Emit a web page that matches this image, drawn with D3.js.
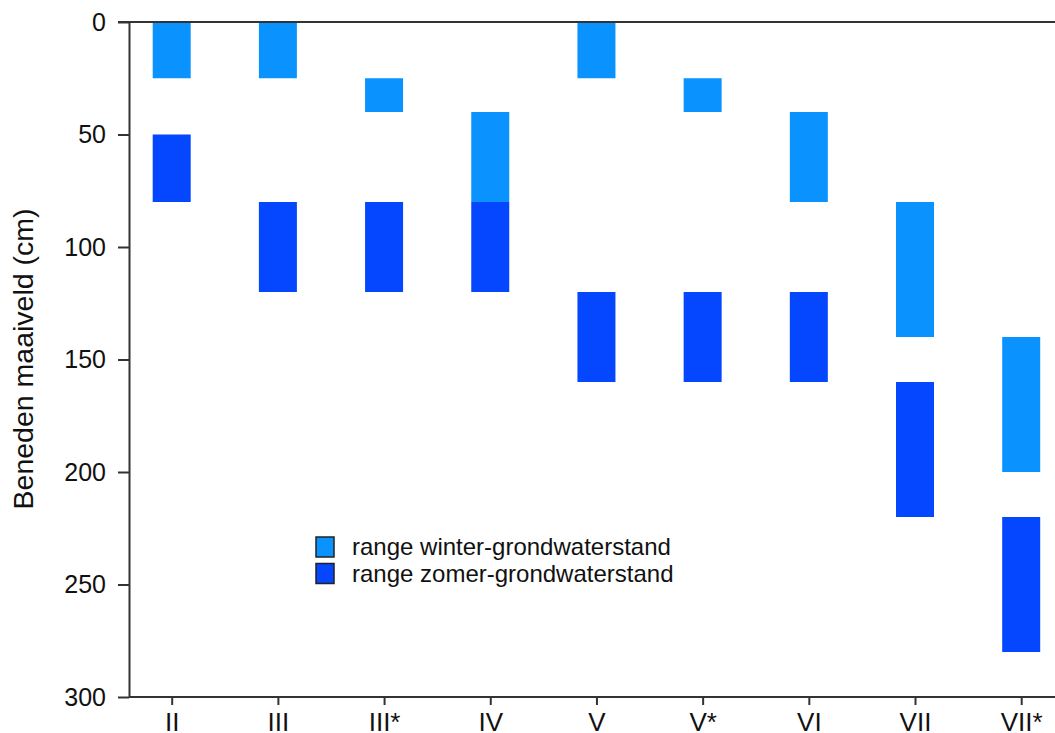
<!DOCTYPE html>
<html>
<head>
<meta charset="utf-8">
<script src="https://cdn.jsdelivr.net/npm/d3@7"></script>
<style>
  html, body { margin: 0; padding: 0; background: #fff; }
  svg { display: block; font-family: "Liberation Sans", Arial, sans-serif; }
</style>
</head>
<body>
<svg id="chart" width="1055" height="733"></svg>
<script>
const categories = ["II", "III", "III*", "IV", "V", "V*", "VI", "VII", "VII*"];
const winterTop    = [0, 0, 25, 40, 0, 25, 40, 80, 140];
const winterBottom = [25, 25, 40, 80, 25, 40, 80, 140, 200];
const summerTop    = [50, 80, 80, 80, 120, 120, 120, 160, 220];
const summerBottom = [80, 120, 120, 120, 160, 160, 160, 220, 280];
const yTicks = [0, 50, 100, 150, 200, 250, 300];
const seriesNames = ["range winter-grondwaterstand", "range zomer-grondwaterstand"];
const seriesColors = ["#0a93ff", "#0546ff"];

const W = 1055, H = 733;
const axisX = 129, yTop = 22, yBottom = 697;
const svg = d3.select("#chart");

const x = d3.scalePoint().domain(categories).range([171.7, 1021.2]);
const y = d3.scaleLinear().domain([0, 300]).range([yTop, yBottom]);
const barW = 38;

// bars
const rows = categories.map((c, i) => ({
  c,
  series: [
    { top: winterTop[i], bottom: winterBottom[i], k: 0 },
    { top: summerTop[i], bottom: summerBottom[i], k: 1 }
  ]
}));

const g = svg.append("g");
rows.forEach(r => {
  r.series.forEach(s => {
    g.append("rect")
      .attr("x", x(r.c) - barW / 2)
      .attr("width", barW)
      .attr("y", y(s.top))
      .attr("height", y(s.bottom) - y(s.top))
      .attr("fill", seriesColors[s.k]);
  });
});

// top frame line
svg.append("line")
  .attr("x1", axisX - 11).attr("x2", W)
  .attr("y1", y(0)).attr("y2", y(0))
  .attr("stroke", "#333").attr("stroke-width", 2);

// y axis
const yAxis = d3.axisLeft(y).tickValues(yTicks).tickSize(11).tickPadding(12).tickSizeOuter(0);
const yg = svg.append("g").attr("transform", `translate(${axisX},0)`).call(yAxis);
yg.select(".domain").attr("stroke", "#333").attr("stroke-width", 2);
yg.selectAll(".tick line").attr("stroke", "#333").attr("stroke-width", 2);
yg.selectAll(".tick text").attr("font-size", 25).attr("fill", "#111")
  .attr("font-family", "Liberation Sans, Arial, sans-serif");

// x axis
const xAxis = d3.axisBottom(x).tickSize(8).tickPadding(8).tickSizeOuter(0);
const xg = svg.append("g").attr("transform", `translate(0,${yBottom})`).call(xAxis);
xg.select(".domain").remove();
xg.append("line").attr("x1", axisX).attr("x2", W).attr("y1", 0).attr("y2", 0)
  .attr("stroke", "#333").attr("stroke-width", 2);
xg.selectAll(".tick line").attr("stroke", "#333").attr("stroke-width", 2);
xg.selectAll(".tick text").attr("font-size", 26).attr("fill", "#111")
  .attr("font-family", "Liberation Sans, Arial, sans-serif");

// y axis title
svg.append("text")
  .attr("transform", `translate(33,359) rotate(-90)`)
  .attr("text-anchor", "middle")
  .attr("font-size", 28.5)
  .attr("fill", "#111")
  .text("Beneden maaiveld (cm)");

// legend
const leg = svg.append("g").attr("transform", "translate(316,537)");
seriesNames.forEach((name, i) => {
  const row = leg.append("g").attr("transform", `translate(0,${i * 26.5})`);
  row.append("rect").attr("x", 0).attr("y", 0).attr("width", 18).attr("height", 20)
    .attr("fill", seriesColors[i]).attr("stroke", "#222").attr("stroke-width", 1.5);
  row.append("text").attr("x", 36).attr("y", 18)
    .attr("font-size", 24).attr("fill", "#111").text(name);
});
</script>
</body>
</html>
